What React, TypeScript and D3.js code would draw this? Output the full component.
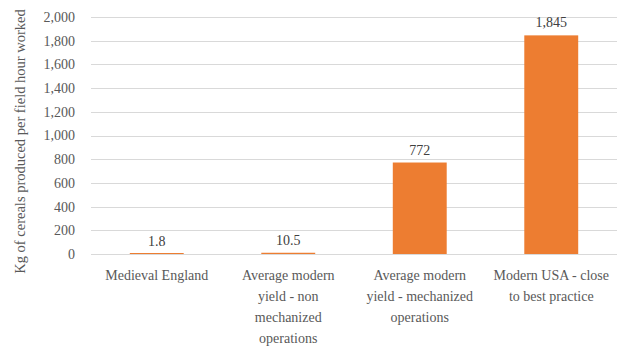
import React from "react";
import * as d3 from "d3";

const categories = [
  "Medieval England",
  "Average modern\nyield - non\nmechanized\noperations",
  "Average modern\nyield - mechanized\noperations",
  "Modern USA - close\nto best practice",
];
const values = [1.8, 10.5, 772, 1845];
const yTicks = [0, 200, 400, 600, 800, 1000, 1200, 1400, 1600, 1800, 2000];
const yTitle = "Kg of cereals produced per field hour worked";

const W = 631;
const H = 357;
const M = { left: 91, right: 14, top: 17, bottom: 103 };
const FONT = "Liberation Serif, Tinos, Times New Roman, DejaVu Serif, serif";
const fmt = d3.format(",");

export default function App() {
  const x = d3
    .scaleBand<string>()
    .domain(categories)
    .range([M.left, W - M.right])
    .paddingInner(0.59)
    .paddingOuter(0.295);
  const y = d3.scaleLinear().domain([0, 2000]).range([H - M.bottom, M.top]);

  return (
    <svg
      width={W}
      height={H}
      style={{ position: "absolute", left: 0, top: 0, background: "#fff", fontFamily: FONT }}
    >
      {yTicks.map((t) => (
        <g key={t}>
          <line
            x1={M.left}
            x2={W - M.right}
            y1={Math.round(y(t)) + 0.5}
            y2={Math.round(y(t)) + 0.5}
            stroke="#d9d9d9"
            strokeWidth={1}
          />
          <text
            x={75}
            y={y(t)}
            dy="0.35em"
            textAnchor="end"
            fontSize={14}
            fill="#595959"
            style={{ fontFamily: FONT }}
          >
            {fmt(t)}
          </text>
        </g>
      ))}
      <text
        transform={`translate(20,${(M.top + H - M.bottom) / 2 + 6}) rotate(-90)`}
        textAnchor="middle"
        dy="0.35em"
        fontSize={14.5}
        fill="#595959"
        style={{ fontFamily: FONT }}
      >
        {yTitle}
      </text>
      {categories.map((c, i) => {
        const v = values[i];
        const bx = x(c)!;
        const top = y(v);
        const h = Math.max(y(0) - top, 1);
        return (
          <g key={c}>
            <rect
              x={bx}
              y={y(0) - h}
              width={x.bandwidth()}
              height={h}
              fill="#ED7D31"
            />
            <text
              x={bx + x.bandwidth() / 2}
              y={top - 8}
              textAnchor="middle"
              fontSize={14}
              fill="#404040"
              style={{ fontFamily: FONT }}
            >
              {fmt(v)}
            </text>
          </g>
        );
      })}
      {categories.map((c) => {
        const cx = x(c)! + x.bandwidth() / 2;
        const lines = c.split("\n");
        return (
          <text
            key={"l" + c}
            x={cx}
            y={y(0) + 26}
            textAnchor="middle"
            fontSize={14}
            fill="#595959"
            style={{ fontFamily: FONT }}
          >
            {lines.map((ln, j) => (
              <tspan key={j} x={cx} dy={j === 0 ? 0 : 21}>
                {ln}
              </tspan>
            ))}
          </text>
        );
      })}
    </svg>
  );
}
